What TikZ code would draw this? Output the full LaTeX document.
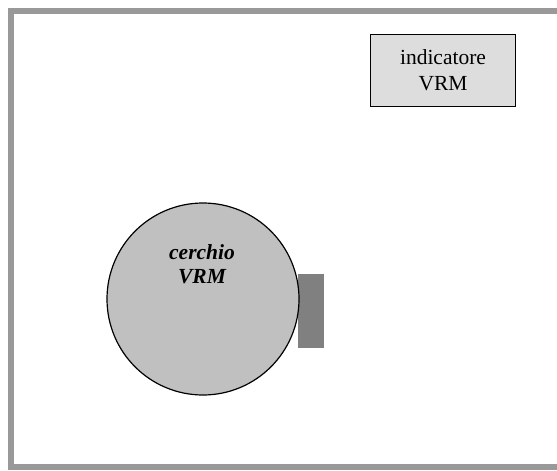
\documentclass[tikz,border=0pt]{standalone}
\usepackage{fontspec}
\setmainfont{Liberation Serif}
\definecolor{framegray}{HTML}{999999}
\definecolor{boxgray}{HTML}{DDDDDD}
\definecolor{circgray}{HTML}{C0C0C0}
\definecolor{tabgray}{HTML}{808080}
\tikzset{
  labelbox/.style={draw=black, line width=1.3pt, fill=boxgray, minimum width=145pt, minimum height=72pt, inner sep=0pt, align=center, font=\fontsize{21.5}{26}\selectfont},
  wheel/.style={circle, draw=black, line width=1.2pt, fill=circgray, minimum size=192pt, inner sep=0pt},
  tab/.style={rectangle, fill=tabgray, draw=none, minimum width=26pt, minimum height=74pt, inner sep=0pt},
  wheeltext/.style={align=center, inner sep=0pt, font=\fontsize{21.5}{24}\selectfont\bfseries\itshape}
}
\begin{document}
\begin{tikzpicture}[x=1pt, y=-1pt]
\useasboundingbox (0,0) rectangle (557,471);
\begin{scope}
\clip (0,0) rectangle (557,471);
\draw[framegray, line width=6pt] (11,11) rectangle (566,467);
\end{scope}
\node[labelbox] (ind) at (443,70.5) {indicatore\\VRM};
\node[tab] (tab) at (311,311) {};
\node[wheel] (wheel) at (203,299) {};
\node[wheeltext] (wt) at (202,264) {cerchio\\VRM};
\end{tikzpicture}
\end{document}
